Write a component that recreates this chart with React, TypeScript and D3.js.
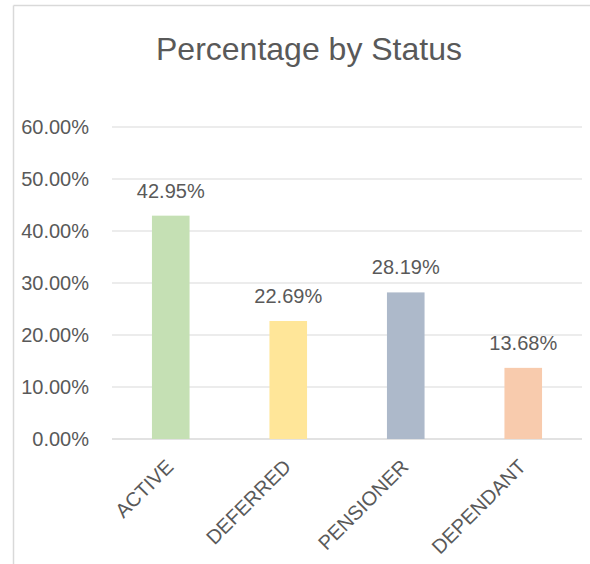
import React from "react";
import * as d3 from "d3";

const categories = ["ACTIVE", "DEFERRED", "PENSIONER", "DEPENDANT"];
const values = [42.95, 22.69, 28.19, 13.68];
const colors = ["#c5e0b4", "#ffe699", "#adb9ca", "#f8cbad"];
const yTicks = [0, 10, 20, 30, 40, 50, 60];

const App = () => {
  const width = 590;
  const height = 564;
  const left = 112;
  const right = 582;
  const top = 127;
  const bottom = 439;
  const font = "'Liberation Sans', Arial, sans-serif";
  const textColor = "#595959";

  // Set up scales
  const xScale = d3.scaleBand().domain(categories).range([left, right]).padding(0);
  const yScale = d3.scaleLinear().domain([0, 60]).range([bottom, top]);
  const barWidth = xScale.bandwidth() * 0.32;

  return (
    <svg
      width={width}
      height={height}
      style={{ position: "absolute", left: 0, top: 0, display: "block", background: "#fff" }}
    >
      {/* chart frame, cropped on the right and bottom */}
      <line x1={13.5} y1={5.5} x2={width} y2={5.5} stroke="#d9d9d9" strokeWidth={1.5} />
      <line x1={13.5} y1={5.5} x2={13.5} y2={height} stroke="#d9d9d9" strokeWidth={1.5} />

      <text
        x={309}
        y={60}
        textAnchor="middle"
        fontFamily={font}
        fontSize={32}
        fill={textColor}
      >
        Percentage by Status
      </text>

      {yTicks.map((t) => (
        <g key={t}>
          <line
            x1={left}
            x2={right}
            y1={yScale(t)}
            y2={yScale(t)}
            stroke="#d9d9d9"
            strokeWidth={t === 0 ? 1.5 : 1.2}
          />
          <text
            x={89}
            y={yScale(t)}
            dy="0.36em"
            textAnchor="end"
            fontFamily={font}
            fontSize={20}
            fill={textColor}
          >
            {t.toFixed(2) + "%"}
          </text>
        </g>
      ))}

      {categories.map((c, i) => {
        const cx = xScale(c)! + xScale.bandwidth() / 2;
        return (
          <g key={c}>
            <rect
              x={cx - barWidth / 2}
              y={yScale(values[i])}
              width={barWidth}
              height={bottom - yScale(values[i])}
              fill={colors[i]}
            />
            <text
              x={cx}
              y={yScale(values[i]) - 18}
              textAnchor="middle"
              fontFamily={font}
              fontSize={20}
              fill={textColor}
            >
              {values[i].toFixed(2) + "%"}
            </text>
            <text
              transform={`translate(${cx - 1}, ${463}) rotate(-45)`}
              textAnchor="end"
              dy="0.35em"
              fontFamily={font}
              fontSize={20}
              fill={textColor}
            >
              {c}
            </text>
          </g>
        );
      })}
    </svg>
  );
};

export default App;
